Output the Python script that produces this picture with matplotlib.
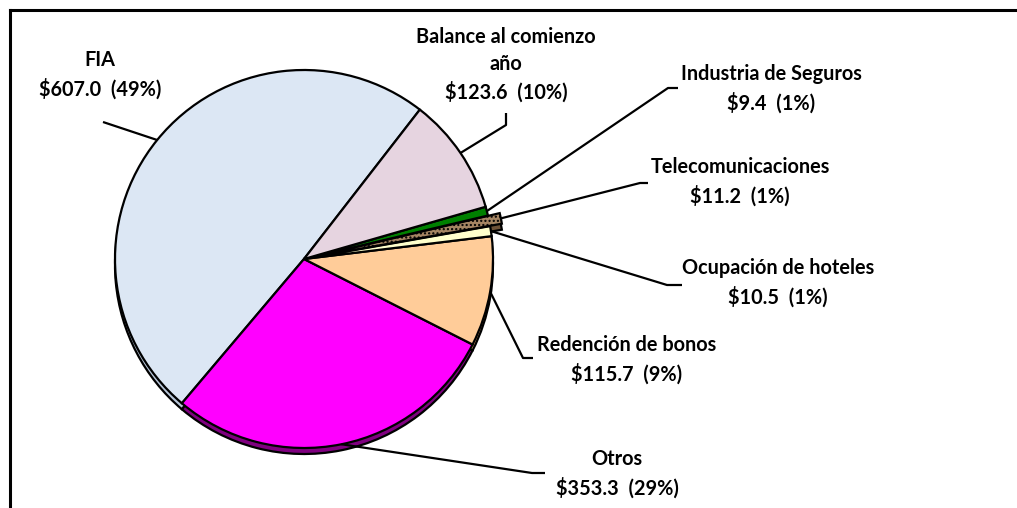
import numpy as np
import matplotlib
matplotlib.use("Agg")
import matplotlib.pyplot as plt
from matplotlib.lines import Line2D

labels = ["FIA", "Otros", "Redención de bonos", "Ocupación de hoteles",
          "Telecomunicaciones", "Industria de Seguros", "Balance al comienzo\naño"]
values = [607.0, 353.3, 115.7, 10.5, 11.2, 9.4, 123.6]
percents = [49, 29, 9, 1, 1, 1, 10]

colors = ["#DCE7F4", "#FF00FF", "#FFCC99", "#FFFFCC", "#A58563", "#008000", "#E6D4E0"]
shadow_colors = ["#B8C6D8", "#800080", "#D9A06A", "#D8D8A0", "#6E5237", "#004D00", "#B9A4B2"]
explode = [0, 0, 0, 0, 12, 0, 0]  # data units (pixels)

# label anchor (text center, image px) and leader elbow points
text_pos = [(100, 75), (617, 474), (627, 360), (778, 283), (740, 182), (771, 89), (506, 65)]
elbows = [[(103, 122)], [(532, 473), (545, 473)], [(523, 358), (533, 358)],
          [(667, 285), (682, 285)], [(640, 183), (648, 183)],
          [(668, 88), (678, 88)], [(506, 125), (506, 113)]]

W, H = 1017, 508
fig = plt.figure(figsize=(W / 100, H / 100), dpi=100)
ax = fig.add_axes([0, 0, 1, 1])
ax.set_xlim(0, W)
ax.set_ylim(0, H)
ax.set_aspect("equal")
ax.axis("off")

cx, cy, R = 304, H - 259, 189
start = 52.2

# shadow (3D rim)
ax.pie(values, colors=shadow_colors, startangle=start, counterclock=True,
       center=(cx, cy - 6), radius=R, explode=explode,
       wedgeprops=dict(edgecolor="black", linewidth=1.6))
wedges, _ = ax.pie(values, colors=colors, startangle=start, counterclock=True,
                   center=(cx, cy), radius=R, explode=explode,
                   wedgeprops=dict(edgecolor="black", linewidth=1.6))
wedges[4].set_hatch("....")
wedges[4].set_edgecolor("black")
ax.set_xlim(0, W)
ax.set_ylim(0, H)

fp = dict(family="Lato", weight="bold", fontsize=14.3, color="black")
for i, w in enumerate(wedges):
    mid = np.deg2rad((w.theta1 + w.theta2) / 2)
    r = w.r
    x0 = w.center[0] + r * np.cos(mid)
    y0 = w.center[1] + r * np.sin(mid)
    pts = [(x0, y0)] + [(x, H - y) for x, y in elbows[i]]
    xs, ys = zip(*pts)
    ax.plot(xs, ys, color="black", lw=1.6, solid_capstyle="butt", zorder=5)
    tx, ty = text_pos[i]
    txt = f"{labels[i]}\n${values[i]:.1f}  ({percents[i]}%)"
    ax.text(tx, H - ty, txt, ha="center", va="center", linespacing=1.45, **fp)

# frame: left and top lines
fig.add_artist(Line2D([10 / W, 10 / W], [0, 1 - 10 / H], color="black", lw=2.2,
                      transform=fig.transFigure))
fig.add_artist(Line2D([10 / W, 1], [1 - 10 / H, 1 - 10 / H], color="black", lw=2.2,
                      transform=fig.transFigure))

fig.savefig("out.png", dpi=100)
